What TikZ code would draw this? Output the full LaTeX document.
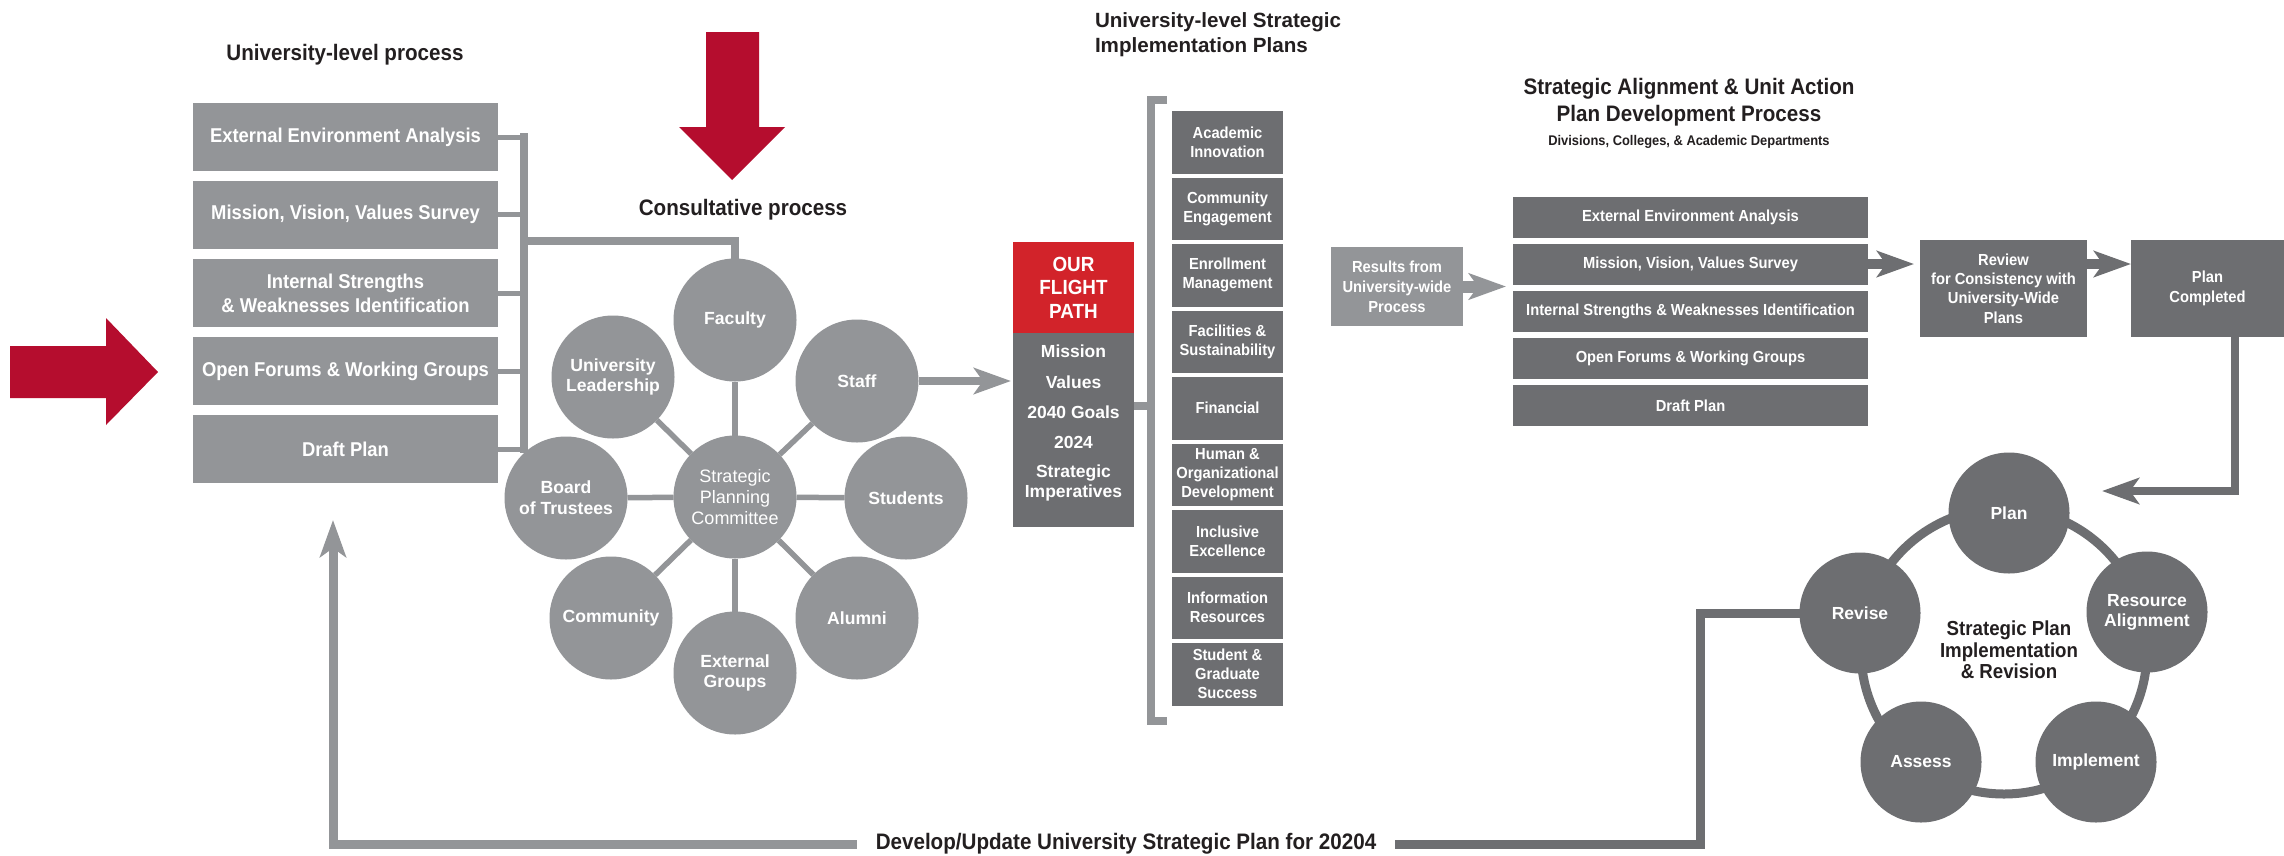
\documentclass[tikz,border=0pt]{standalone}
\usepackage{fontspec}
\setmainfont{Liberation Sans}
\newfontface\hvb{Liberation Sans Bold}
\newfontface\hvr{Liberation Sans}
\newfontface\hvc[FakeStretch=0.92]{Liberation Sans Bold}
\usetikzlibrary{arrows.meta}
\newcommand\fsz[2]{\fontsize{#1}{#2}\selectfont}

\definecolor{lgray}{HTML}{939598}
\definecolor{dgray}{HTML}{6D6E71}
\definecolor{fpred}{HTML}{D2232A}
\definecolor{arrred}{HTML}{B50D2E}
\definecolor{ink}{HTML}{231F20}

\tikzset{
  every node/.style={inner sep=0pt, outer sep=0pt},
  heading/.style={text=ink, font={\hvc\fsz{22.4}{27}}, align=center},
  subheading/.style={text=ink, font={\hvc\fsz{14}{16}}, align=center},
  lbox/.style={fill=lgray, text=white, minimum width=305, minimum height=68,
               font={\hvc\fsz{20}{24}}, align=center},
  ibox/.style={fill=dgray, text=white, minimum width=111, minimum height=62.5,
               font={\hvc\fsz{16}{19}}, align=center},
  rbox/.style={fill=dgray, text=white, minimum width=355, minimum height=41,
               font={\hvc\fsz{16}{19}}, align=center},
  cc/.style={circle, fill=lgray, minimum size=123, text=white,
             font={\hvb\fsz{17.6}{20.7}}, align=center},
  cyc/.style={circle, fill=dgray, minimum size=121, text=white,
              font={\hvb\fsz{17.5}{20}}, align=center},
  fptext/.style={text=white, font={\hvb\fsz{17.5}{20}}, align=center},
  spoke/.style={lgray, line width=5.5},
  bigarrow/.style={-{Stealth[length=37pt,width=26pt,inset=9pt]}},
}

\begin{document}
\begin{tikzpicture}[x=1pt,y=-1pt]
\fill[white] (0,0) rectangle (2284,855);
\useasboundingbox (0,0) rectangle (2284,855);

% ---------- headings ----------
\node[heading] (hUniv) at (345,55) {University-level process};
\node[heading] (hCons) at (743,210) {Consultative process};
\node[text=ink, font={\hvb\fsz{20.6}{25}}, align=left, anchor=north west]
  (hPlans) at (1095,13) {University-level Strategic\\Implementation Plans};
\node[heading] (hAlign) at (1689,102) {Strategic Alignment \& Unit Action\\Plan Development Process};
\node[subheading] (hDiv) at (1689,142) {Divisions, Colleges, \& Academic Departments};

% ---------- red input arrows ----------
\fill[arrred] (10,346) -- (106,346) -- (106,318) -- (158,372) -- (106,425)
  -- (106,398) -- (10,398) -- cycle;
\fill[arrred] (706,32) -- (759,32) -- (759,127) -- (785,127) -- (732,180)
  -- (679,127) -- (706,127) -- cycle;

% ---------- university-level process list ----------
\node[lbox] (L1) at (345.5,137) {External Environment Analysis};
\node[lbox] (L2) at (345.5,214.5) {Mission, Vision, Values Survey};
\node[lbox] (L3) at (345.5,293) {Internal Strengths\\\& Weaknesses Identification};
\node[lbox] (L4) at (345.5,371) {Open Forums \& Working Groups};
\node[lbox] (L5) at (345.5,449) {Draft Plan};

\coordinate (lbr) at (524,0);
\coordinate (lbj) at (524,241);
\foreach \n in {L1,L2,L3,L4,L5}
  \draw[lgray, line width=5] (\n.east) -- (\n.east -| lbr);
\draw[lgray, line width=8, line cap=rect] (L1.east -| lbr) -- (L5.east -| lbr);

% ---------- consultative process ----------
\node[cc, font={\hvr\fsz{18}{21}}] (SPC) at (735,497) {Strategic\\Planning\\Committee};
\node[cc] (FAC) at (735,320) {Faculty};
\node[cc] (UL)  at (613,377) {University\\Leadership};
\node[cc] (STA) at (857,381) {Staff};
\node[cc] (BOT) at (566,498) {Board\\of Trustees};
\node[cc] (STU) at (906,498) {Students};
\node[cc] (COM) at (611,618) {Community};
\node[cc] (ALU) at (857,618) {Alumni};
\node[cc] (EXT) at (735,673) {External\\Groups};
\foreach \n in {FAC,UL,STA,BOT,STU,COM,ALU,EXT}
  \draw[spoke] (SPC) -- (\n);

\draw[lgray, line width=8] (lbj) -| (FAC.north);

% ---------- our flight path ----------
\node[fill=fpred, minimum width=121, minimum height=91, text=white,
      font={\hvc\fsz{20.5}{23.5}}, align=center] (FPR) at (1073.5,287.5) {OUR\\FLIGHT\\PATH};
\node[fill=dgray, minimum width=121, minimum height=194] (FPB) at (1073.5,430) {};
\node[fptext] (fpM) at (1073.5,351) {Mission};
\node[fptext] (fpV) at (1073.5,382) {Values};
\node[fptext] (fpG) at (1073.5,412) {2040 Goals};
\node[fptext] (fpY) at (1073.5,442) {2024};
\node[fptext] (fpS) at (1073.5,483) {Strategic\\Imperatives};

\draw[lgray, line width=8, bigarrow] (STA.east) -- ([xshift=-2pt]STA.east -| FPB.west);

% ---------- implementation plans ----------
\coordinate (ibj) at (1151,406);
\draw[lgray, line width=8] (FPB.east |- ibj) -- (ibj);
\draw[lgray, line width=8] (1167,99.5) -- (1151,99.5) -- (1151,720.5) -- (1167,720.5);

\node[ibox] (I1) at (1227.5,142.25) {Academic\\Innovation};
\node[ibox] (I2) at (1227.5,208.75) {Community\\Engagement};
\node[ibox] (I3) at (1227.5,275.25) {Enrollment\\Management};
\node[ibox] (I4) at (1227.5,341.75) {Facilities \&\\Sustainability};
\node[ibox] (I5) at (1227.5,408.25) {Financial};
\node[ibox] (I6) at (1227.5,474.75) {Human \&\\Organizational\\Development};
\node[ibox] (I7) at (1227.5,541.25) {Inclusive\\Excellence};
\node[ibox] (I8) at (1227.5,607.75) {Information\\Resources};
\node[ibox] (I9) at (1227.5,674.25) {Student \&\\Graduate\\Success};

% ---------- unit action plan development ----------
\node[fill=lgray, text=white, minimum width=132, minimum height=79,
      font={\hvc\fsz{16}{20}}, align=center] (RES) at (1397,286.5) {Results from\\University-wide\\Process};

\node[rbox] (R1) at (1690.5,217.5) {External Environment Analysis};
\node[rbox] (R2) at (1690.5,264) {Mission, Vision, Values Survey};
\node[rbox] (R3) at (1690.5,311.5) {Internal Strengths \& Weaknesses Identification};
\node[rbox] (R4) at (1690.5,358.5) {Open Forums \& Working Groups};
\node[rbox] (R5) at (1690.5,405.5) {Draft Plan};

\node[fill=dgray, text=white, minimum width=167, minimum height=97,
      font={\hvc\fsz{16}{19.3}}, align=center] (REV) at (2003.5,288.5)
      {Review\\for Consistency with\\University-Wide\\Plans};
\node[fill=dgray, text=white, minimum width=153, minimum height=97,
      font={\hvc\fsz{16}{19.3}}, align=center] (PC) at (2207.5,288.5) {Plan\\Completed};

\draw[lgray, line width=12, bigarrow] (RES.east) -- ([xshift=-7pt]RES.east -| R1.west);
\draw[dgray, line width=10, bigarrow] (R2.east) -- ([xshift=-6pt]R2.east -| REV.west);
\draw[dgray, line width=10, bigarrow] (REV.east |- R2.east) -- (PC.west |- R2.east);

% ---------- implementation & revision cycle ----------
\draw[dgray, line width=9] (2004,651) circle[radius=143];
\node[cyc] (PL) at (2009,513) {Plan};
\node[cyc] (RA) at (2147,612) {Resource\\Alignment};
\node[cyc] (IM) at (2096,762) {Implement};
\node[cyc] (AS) at (1921,762) {Assess};
\node[cyc] (RV) at (1860,613) {Revise};
\node[text=ink, font={\hvc\fsz{20.3}{21.5}}, align=center] (CYT) at (2009,650)
  {Strategic Plan\\Implementation\\\& Revision};

\coordinate (cyin) at (2102,491);
\draw[dgray, line width=8, bigarrow] ([xshift=27.5pt]PC.south) |- (cyin);

% ---------- loop back to the university-level process ----------
\node[text=ink, font={\hvc\fsz{22.4}{26}}, inner xsep=19pt] (LOOP) at (1126,844)
  {Develop/Update University Strategic Plan for 20204};
\coordinate (loopturn) at (1700,844);
\coordinate (loopend) at (333,520);
\draw[dgray, line width=9] (RV.west) -| (loopturn) -- (LOOP.east);
\draw[lgray, line width=9, bigarrow] (LOOP.west) -| (loopend);

\end{tikzpicture}
\end{document}
